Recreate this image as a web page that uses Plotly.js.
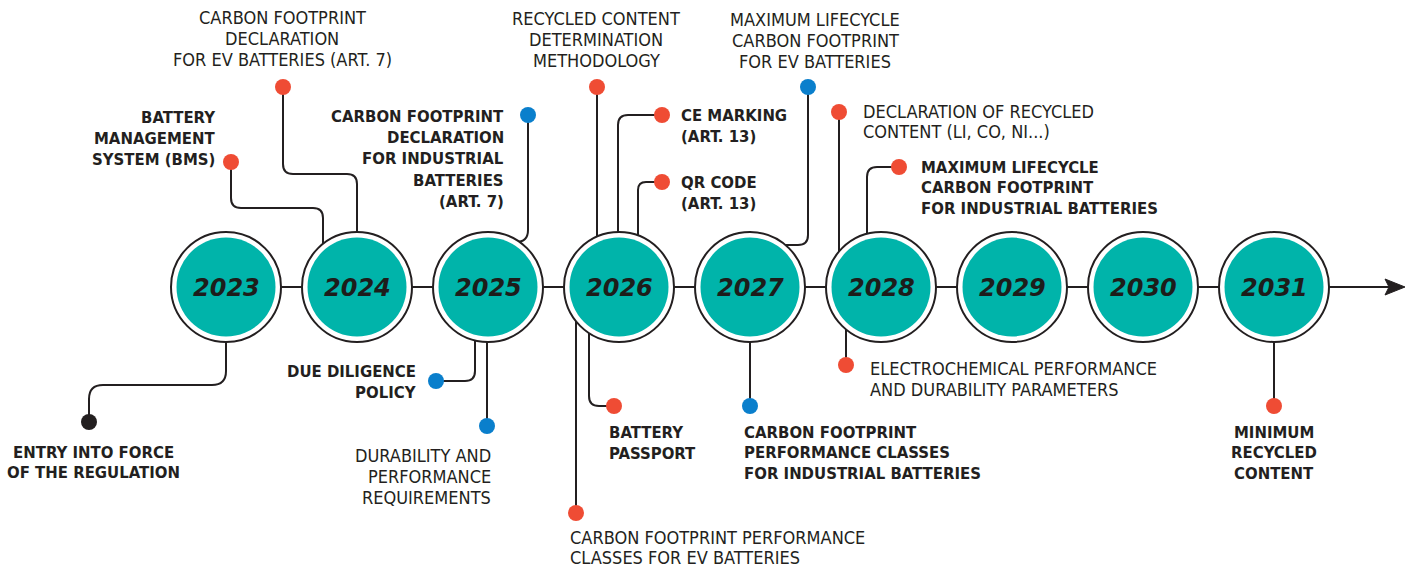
<!DOCTYPE html>
<html>
<head>
<meta charset="utf-8">
<script src="https://cdn.plot.ly/plotly-3.0.1.min.js"></script>
<style>html,body{margin:0;padding:0;background:#fff;}#chart{width:1413px;height:568px;}</style>
</head>
<body>
<div id="chart"></div>
<script>
// ---------------- DATA ----------------
const years = [2023, 2024, 2025, 2026, 2027, 2028, 2029, 2030, 2031];
const yearLabels = ["2023", "2024", "2025", "2026", "2027", "2028", "2029", "2030", "2031"];

const eventYears = [2023, 2024, 2024, 2025, 2025, 2025, 2026, 2026, 2026, 2026, 2026, 2027, 2027, 2028, 2028, 2028, 2031];
const eventLabels = [
  "ENTRY INTO FORCE\nOF THE REGULATION",
  "BATTERY\nMANAGEMENT\nSYSTEM (BMS)",
  "CARBON FOOTPRINT\nDECLARATION\nFOR EV BATTERIES (ART. 7)",
  "CARBON FOOTPRINT\nDECLARATION\nFOR INDUSTRIAL\nBATTERIES\n(ART. 7)",
  "DUE DILIGENCE\nPOLICY",
  "DURABILITY AND\nPERFORMANCE\nREQUIREMENTS",
  "RECYCLED CONTENT\nDETERMINATION\nMETHODOLOGY",
  "CE MARKING\n(ART. 13)",
  "QR CODE\n(ART. 13)",
  "BATTERY\nPASSPORT",
  "CARBON FOOTPRINT PERFORMANCE\nCLASSES FOR EV BATTERIES",
  "MAXIMUM LIFECYCLE\nCARBON FOOTPRINT\nFOR EV BATTERIES",
  "CARBON FOOTPRINT\nPERFORMANCE CLASSES\nFOR INDUSTRIAL BATTERIES",
  "DECLARATION OF RECYCLED\nCONTENT (LI, CO, NI...)",
  "MAXIMUM LIFECYCLE\nCARBON FOOTPRINT\nFOR INDUSTRIAL BATTERIES",
  "ELECTROCHEMICAL PERFORMANCE\nAND DURABILITY PARAMETERS",
  "MINIMUM\nRECYCLED\nCONTENT"
];
const eventKinds = ["entry", "red", "red", "blue", "blue", "blue", "red", "red", "red", "red", "red", "blue", "blue", "red", "red", "red", "red"];

// ---------------- LAYOUT (positions in px, relative to each year's circle) ----------------
// pts: connector polyline [dx, y] from circle to dot; t: text anchor, dx, first line y, line step
const eventPlacement = [
  {pts: [[0,287],[0,385],[-137,385],[-137,422]], r: 14, t: "center", tx: -133, ty: 452, ts: 20},
  {pts: [[-34,287],[-34,208],[-126,208],[-126,162]], r: 10, t: "right", tx: -141, ty: 117, ts: 21},
  {pts: [[0,287],[0,174],[-74,174],[-74,87]], r: 10, t: "center", tx: -75, ty: 17, ts: 21},
  {pts: [[0,242],[40,242],[40,115]], r: 12, t: "right", tx: 17, ty: 116, ts: 21.4},
  {pts: [[-13,287],[-13,381],[-52,381]], r: 10, t: "right", tx: -71, ty: 371, ts: 21},
  {pts: [[-1,287],[-1,426]], r: 0, t: "right", tx: 4, ty: 455, ts: 21},
  {pts: [[-22,287],[-22,87]], r: 0, t: "center", tx: -23, ty: 18, ts: 21},
  {pts: [[-1,287],[-1,115],[43,115]], r: 10, t: "left", tx: 61, ty: 115, ts: 21},
  {pts: [[19,287],[19,182],[43,182]], r: 8, t: "left", tx: 61, ty: 182, ts: 21},
  {pts: [[-30,287],[-30,406],[-5,406]], r: 10, t: "left", tx: -11, ty: 432, ts: 21},
  {pts: [[-43,287],[-43,513]], r: 0, t: "left", tx: -50, ty: 537, ts: 20},
  {pts: [[20,245],[58,245],[58,87]], r: 10, t: "center", tx: 65, ty: 19, ts: 21},
  {pts: [[0,287],[0,406]], r: 0, t: "left", tx: -7, ty: 432, ts: 20.5},
  {pts: [[-42,287],[-42,112]], r: 0, t: "left", tx: -19, ty: 111, ts: 20},
  {pts: [[-14,287],[-14,167],[18,167]], r: 10, t: "left", tx: 39, ty: 167, ts: 20.5},
  {pts: [[-35,287],[-35,365]], r: 0, t: "left", tx: -12, ty: 368, ts: 21},
  {pts: [[0,287],[0,406]], r: 0, t: "center", tx: 0, ty: 432, ts: 20.5}
];
const boldLabel = [true, true, false, true, true, false, false, true, true, true, false, false, true, false, true, false, true];

// ---------------- STYLE ----------------
const W = 1413, H = 568;
const PX = 131, X0 = 226;          // px per year, px of first year
const LINE_Y = 287, R_OUT = 55, R_IN = 49.5;
const INK = "#231f20", TEAL = "#00b4aa";
const kindColor = {entry: "#231f20", red: "#ef4c34", blue: "#0a7fcc"};
const FONT = "Liberation Sans Narrow, 'DejaVu Sans Condensed', Arial Narrow, sans-serif";

const xd = (year, dx) => year + dx / PX;

function roundedPath(year, pts, r) {
  let d = "M" + xd(year, pts[0][0]) + "," + pts[0][1];
  for (let i = 1; i < pts.length - 1; i++) {
    const [ax, ay] = pts[i - 1], [px, py] = pts[i], [bx, by] = pts[i + 1];
    const l1 = Math.hypot(px - ax, py - ay), l2 = Math.hypot(bx - px, by - py);
    const rr = Math.min(r, l1 / 2, l2 / 2);
    const p1 = [px - (px - ax) / l1 * rr, py - (py - ay) / l1 * rr];
    const p2 = [px + (bx - px) / l2 * rr, py + (by - py) / l2 * rr];
    d += " L" + xd(year, p1[0]) + "," + p1[1] + " Q" + xd(year, px) + "," + py + " " + xd(year, p2[0]) + "," + p2[1];
  }
  const last = pts[pts.length - 1];
  d += " L" + xd(year, last[0]) + "," + last[1];
  return d;
}

const shapes = [];
const lastYear = years[years.length - 1];
// main timeline
shapes.push({type: "line", layer: "below", xref: "x", yref: "y",
  x0: years[0], x1: xd(lastYear, 116), y0: LINE_Y, y1: LINE_Y, line: {color: INK, width: 2}});
shapes.push({type: "path", layer: "below", xref: "x", yref: "y",
  path: "M" + xd(lastYear, 131) + "," + LINE_Y + " L" + xd(lastYear, 111) + "," + (LINE_Y - 8) +
        " L" + xd(lastYear, 115) + "," + LINE_Y + " L" + xd(lastYear, 111) + "," + (LINE_Y + 8) + " Z",
  fillcolor: INK, line: {color: INK, width: 1}});
// connectors
eventYears.forEach((yr, i) => {
  shapes.push({type: "path", layer: "below", xref: "x", yref: "y",
    path: roundedPath(yr, eventPlacement[i].pts, eventPlacement[i].r),
    line: {color: INK, width: 2}});
});
// year circles
years.forEach(yr => {
  shapes.push({type: "circle", layer: "below", xref: "x", yref: "y",
    x0: xd(yr, -R_OUT), x1: xd(yr, R_OUT), y0: LINE_Y - R_OUT, y1: LINE_Y + R_OUT,
    fillcolor: "#ffffff", line: {color: INK, width: 2}});
  shapes.push({type: "circle", layer: "below", xref: "x", yref: "y",
    x0: xd(yr, -R_IN), x1: xd(yr, R_IN), y0: LINE_Y - R_IN, y1: LINE_Y + R_IN,
    fillcolor: TEAL, line: {width: 0}});
});

// dots
const dotX = [], dotY = [], dotC = [];
eventYears.forEach((yr, i) => {
  const p = eventPlacement[i].pts[eventPlacement[i].pts.length - 1];
  dotX.push(xd(yr, p[0])); dotY.push(p[1]); dotC.push(kindColor[eventKinds[i]]);
});
const traces = [{
  type: "scatter", mode: "markers", x: dotX, y: dotY, hoverinfo: "skip",
  marker: {size: 16, color: dotC, line: {width: 0}}
}];

// annotations
const annotations = [];
years.forEach((yr, i) => {
  annotations.push({x: yr, y: LINE_Y + 1, xref: "x", yref: "y", text: yearLabels[i], showarrow: false,
    xanchor: "center", yanchor: "middle",
    font: {family: "DejaVu Sans", size: 24, weight: "bold", style: "italic", color: "#1d1d1b"}});
});
eventLabels.forEach((lab, i) => {
  const pl = eventPlacement[i];
  lab.split("\n").forEach((line, k) => {
    annotations.push({x: xd(eventYears[i], pl.tx), y: pl.ty + k * pl.ts, xref: "x", yref: "y",
      text: line, showarrow: false, xanchor: pl.t, yanchor: "middle", align: pl.t, borderpad: 0,
      font: {family: FONT, size: boldLabel[i] ? 16.6 : 18, weight: boldLabel[i] ? "bold" : "normal", color: INK}});
  });
});

const layout = {
  width: W, height: H, margin: {l: 0, r: 0, t: 0, b: 0},
  paper_bgcolor: "#ffffff", plot_bgcolor: "#ffffff", showlegend: false,
  xaxis: {range: [years[0] - X0 / PX, years[0] + (W - X0) / PX], visible: false, fixedrange: true},
  yaxis: {range: [H, 0], visible: false, fixedrange: true},
  shapes: shapes, annotations: annotations
};
Plotly.newPlot("chart", traces, layout, {displayModeBar: false, staticPlot: true});
</script>
</body>
</html>
